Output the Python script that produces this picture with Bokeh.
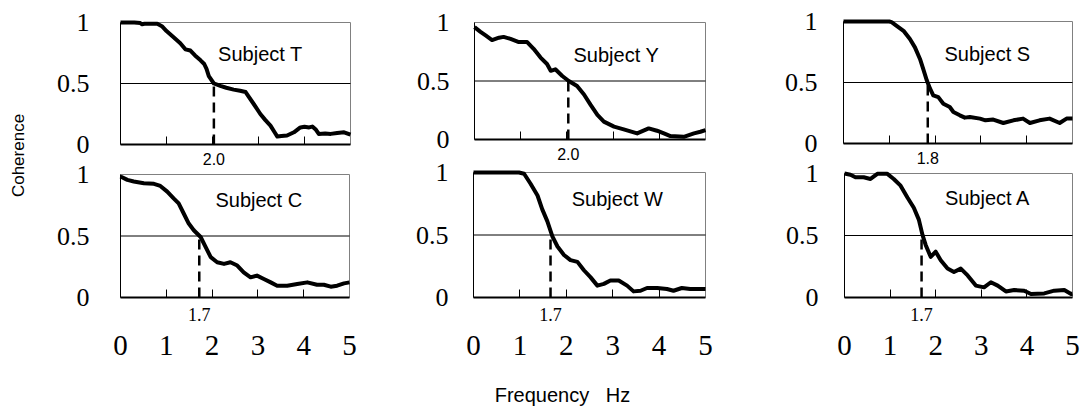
import math
from bokeh.plotting import figure
from bokeh.models import Range1d, FixedTicker, LinearAxis, NumeralTickFormatter
from bokeh.core.properties import value
from bokeh.embed import file_html
from bokeh.resources import INLINE

# ---------------- data ----------------
subjects = ["Subject T", "Subject Y", "Subject S", "Subject C", "Subject W", "Subject A"]

freq_T = [0, 0.3, 0.43, 0.47, 0.52, 0.8, 0.9, 1.0, 1.16, 1.3, 1.41, 1.52, 1.62, 1.74, 1.82, 1.87,
          1.92, 2.03, 2.1, 2.17, 2.3, 2.46, 2.6, 2.72, 2.79, 2.9, 3.04, 3.15, 3.26, 3.35, 3.41, 3.5,
          3.62, 3.77, 3.91, 4.0, 4.1, 4.17, 4.25, 4.31, 4.45, 4.57, 4.71, 4.86, 5.0]
coh_T = [1.0, 1.0, 0.995, 0.985, 0.99, 0.99, 0.97, 0.93, 0.877, 0.83, 0.78, 0.77, 0.73, 0.69, 0.66, 0.62,
         0.56, 0.50, 0.49, 0.48, 0.465, 0.45, 0.44, 0.43, 0.39, 0.33, 0.25, 0.20, 0.155, 0.10, 0.065, 0.07,
         0.074, 0.10, 0.14, 0.145, 0.14, 0.147, 0.12, 0.087, 0.09, 0.087, 0.095, 0.10, 0.08]

freq_Y = [0, 0.13, 0.24, 0.38, 0.53, 0.63, 0.78, 0.96, 1.14, 1.28, 1.43, 1.57, 1.65, 1.75, 1.90, 2.04,
          2.22, 2.37, 2.51, 2.66, 2.80, 3.02, 3.23, 3.52, 3.77, 3.95, 4.10, 4.24, 4.53, 4.75, 4.89, 5.0]
coh_Y = [0.96, 0.92, 0.89, 0.85, 0.87, 0.877, 0.86, 0.833, 0.833, 0.775, 0.70, 0.645, 0.587, 0.60, 0.543, 0.50,
         0.457, 0.385, 0.298, 0.21, 0.153, 0.11, 0.087, 0.052, 0.095, 0.075, 0.052, 0.029, 0.023, 0.052, 0.066, 0.08]

freq_S = [0, 1.0, 1.05, 1.16, 1.31, 1.45, 1.56, 1.67, 1.74, 1.82, 1.89, 1.96, 2.07, 2.18, 2.32, 2.40,
          2.54, 2.65, 2.76, 2.98, 3.1, 3.27, 3.49, 3.71, 3.92, 4.07, 4.28, 4.50, 4.72, 4.87, 5.0]
coh_S = [1.0, 1.0, 0.995, 0.965, 0.924, 0.856, 0.788, 0.693, 0.612, 0.516, 0.449, 0.394, 0.38, 0.326, 0.299, 0.258,
         0.231, 0.212, 0.217, 0.204, 0.19, 0.196, 0.168, 0.19, 0.204, 0.168, 0.19, 0.204, 0.168, 0.204, 0.204]

freq_C = [0, 0.15, 0.29, 0.51, 0.73, 0.87, 1.02, 1.16, 1.27, 1.38, 1.49, 1.60, 1.75, 1.86, 1.97, 2.11,
          2.26, 2.40, 2.55, 2.69, 2.84, 2.98, 3.13, 3.28, 3.42, 3.64, 3.86, 4.08, 4.29, 4.44, 4.59, 4.73, 4.88, 5.0]
coh_C = [0.984, 0.956, 0.943, 0.929, 0.924, 0.907, 0.861, 0.806, 0.765, 0.683, 0.601, 0.547, 0.492, 0.41, 0.328, 0.287,
         0.273, 0.287, 0.26, 0.205, 0.164, 0.178, 0.15, 0.123, 0.096, 0.096, 0.11, 0.123, 0.104, 0.104, 0.088, 0.096, 0.115, 0.123]

freq_W = [0, 0.98, 1.09, 1.23, 1.38, 1.48, 1.59, 1.70, 1.81, 1.95, 2.09, 2.24, 2.38, 2.52, 2.67, 2.81,
          2.95, 3.13, 3.31, 3.45, 3.60, 3.74, 3.96, 4.17, 4.31, 4.49, 4.67, 5.0]
coh_W = [1.0, 1.0, 0.99, 0.91, 0.816, 0.707, 0.611, 0.489, 0.408, 0.34, 0.299, 0.285, 0.218, 0.163, 0.095, 0.109,
         0.136, 0.136, 0.095, 0.049, 0.054, 0.076, 0.076, 0.068, 0.054, 0.076, 0.068, 0.068]

freq_A = [0, 0.13, 0.24, 0.42, 0.57, 0.72, 0.94, 1.08, 1.23, 1.38, 1.52, 1.63, 1.71, 1.78, 1.89, 2.0,
          2.11, 2.26, 2.40, 2.55, 2.70, 2.88, 3.06, 3.21, 3.36, 3.54, 3.72, 3.94, 4.09, 4.38, 4.60, 4.82, 4.97, 5.0]
coh_A = [1.0, 0.99, 0.97, 0.97, 0.956, 0.997, 0.997, 0.956, 0.902, 0.806, 0.724, 0.628, 0.505, 0.424, 0.328, 0.369,
         0.301, 0.233, 0.205, 0.233, 0.178, 0.096, 0.082, 0.123, 0.096, 0.049, 0.06, 0.055, 0.028, 0.033, 0.055, 0.06, 0.028, 0.03]

freqs = [freq_T, freq_Y, freq_S, freq_C, freq_W, freq_A]
cohs = [coh_T, coh_Y, coh_S, coh_C, coh_W, coh_A]
cutoffs = [2.03, 2.03, 1.84, 1.72, 1.66, 1.69]   # shown with one decimal
threshold = 0.5
x_min, x_max = 0, 5
y_min, y_max = 0, 1
y_ticks = [0, 0.5, 1]
x_ticks = [0, 1, 2, 3, 4, 5]
inner_ticks = [1, 2, 3, 4]
y_label = "Coherence"
x_label = "Frequency \u00a0\u00a0Hz"

# ---------------- layout: panel frames in page pixels (left, right, top, bottom) ----------------
W, H = 1084, 407
frames = [(120, 350, 22, 144), (474, 705, 22, 139), (843, 1072, 21, 143),
          (120, 349, 174, 297), (473, 705, 172, 297), (844, 1072, 173, 297)]
label_pos = [(3.04, 0.745), (3.07, 0.72), (3.14, 0.735), (3.02, 0.79), (3.10, 0.79), (3.14, 0.805)]
y_standoff = [31, 25, 26, 31, 25, 26]
cut_standoff = [8, 10]
ylabel_pos = (17.5, 155)
xlabel_pos = (562, 394)

SERIF = "Liberation Serif"
SANS = "Liberation Sans"

p = figure(width=W, height=H, title=None, x_range=Range1d(0, W), y_range=Range1d(0, H),
           x_axis_type=None, y_axis_type=None, min_border=0,
           output_backend="svg", toolbar_location=None, tools="")
p.outline_line_color = None
p.background_fill_color = "white"
p.border_fill_color = "white"

xr, yr = {}, {}
for i, (L, R, T, B) in enumerate(frames):
    kx = (R - L) / (x_max - x_min)
    sx = x_min - L / kx
    xr["x%d" % i] = Range1d(sx, sx + W / kx)
    b_up, t_up = H - B, H - T
    ky = (t_up - b_up) / (y_max - y_min)
    sy = y_min - b_up / ky
    yr["y%d" % i] = Range1d(sy, sy + H / ky)
p.extra_x_ranges = xr
p.extra_y_ranges = yr

for i in range(6):
    r = i // 3
    xn, yn = "x%d" % i, "y%d" % i
    kw = dict(x_range_name=xn, y_range_name=yn)

    p.quad(left=[x_min], right=[x_max], bottom=[y_min], top=[y_max], fill_color=None,
           line_color="#808080", line_width=1, **kw)

    ya = LinearAxis(ticker=FixedTicker(ticks=y_ticks), bounds=(y_min, y_max), fixed_location=x_min, **kw)
    ya.major_tick_in = 0
    ya.major_tick_out = 0
    ya.minor_tick_line_color = None
    ya.axis_line_color = "black"
    ya.axis_line_width = 1
    ya.major_label_text_font = SERIF
    ya.major_label_text_font_size = "26px"
    ya.major_label_text_color = "black"
    ya.major_label_standoff = y_standoff[i]
    p.add_layout(ya, "left")

    xa = LinearAxis(ticker=FixedTicker(ticks=[cutoffs[i]], minor_ticks=inner_ticks),
                    formatter=NumeralTickFormatter(format="0.0"),
                    bounds=(x_min, x_max), fixed_location=y_min, **kw)
    xa.major_tick_in = 0
    xa.major_tick_out = 0
    xa.minor_tick_in = 8
    xa.minor_tick_out = 0
    xa.minor_tick_line_color = "black"
    xa.minor_tick_line_width = 1
    xa.axis_line_color = "black"
    xa.axis_line_width = 2
    xa.major_label_text_color = "black"
    xa.major_label_standoff = cut_standoff[r]
    if r == 0:
        xa.major_label_text_font = SANS
        xa.major_label_text_font_size = "16px"
    else:
        xa.major_label_text_font = SERIF
        xa.major_label_text_font_size = "18px"
    p.add_layout(xa, "below")

    if r == 1:
        xb = LinearAxis(ticker=FixedTicker(ticks=x_ticks), bounds=(x_min, x_max),
                        fixed_location=y_min, **kw)
        xb.axis_line_color = None
        xb.major_tick_line_color = None
        xb.minor_tick_line_color = None
        xb.major_label_text_font = SERIF
        xb.major_label_text_font_size = "29px"
        xb.major_label_text_color = "black"
        xb.major_label_standoff = 32
        p.add_layout(xb, "below")

    p.segment(x0=[x_min], y0=[threshold], x1=[x_max], y1=[threshold],
              line_color="black", line_width=1, **kw)
    p.segment(x0=[cutoffs[i]], y0=[y_min], x1=[cutoffs[i]], y1=[threshold],
              line_color="black", line_width=2.5, line_dash="10 6", **kw)
    p.line(freqs[i], cohs[i], line_color="black", line_width=4, line_join="round", **kw)
    lx, ly = label_pos[i]
    p.text(x=[lx], y=[ly], text=[subjects[i]], text_font=value(SANS), text_font_size="20px",
           text_align="center", text_baseline="middle", text_color="black", **kw)

p.text(x=[ylabel_pos[0]], y=[H - ylabel_pos[1]], text=[y_label], angle=math.pi / 2,
       text_font=value(SANS), text_font_size="17px", text_align="center",
       text_baseline="middle", text_color="black")
p.text(x=[xlabel_pos[0]], y=[H - xlabel_pos[1]], text=[x_label],
       text_font=value(SANS), text_font_size="20px", text_align="center",
       text_baseline="middle", text_color="black")

open("out.html", "w").write(file_html(p, INLINE))
